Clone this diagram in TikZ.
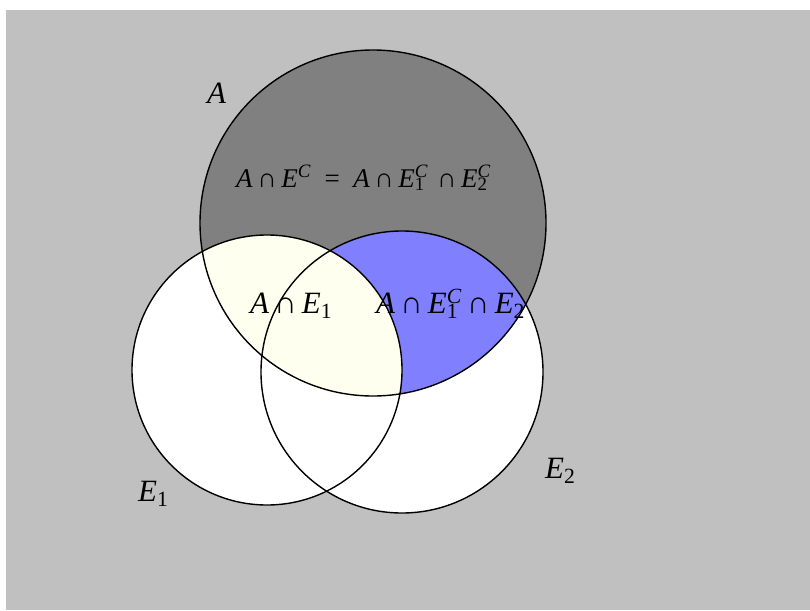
\documentclass[tikz,border=0pt]{standalone}
\usepackage{fontspec}
\setmainfont{Liberation Serif}
\definecolor{bgGray}{RGB}{192,192,192}
\definecolor{setGray}{RGB}{128,128,128}
\definecolor{setBlue}{RGB}{128,128,255}
\definecolor{setCream}{RGB}{255,255,240}
\newcommand{\icap}{\,∩\,}
% E with a subscript and a superscript stacked
\newcommand{\Eset}[2]{\textit{E}\setbox0\hbox{\textsuperscript{\textit{#2}}}%
  \setbox2\hbox{\textsubscript{#1}}%
  \ifdim\wd0>\wd2 \rlap{\box2}\box0\else\rlap{\box0}\box2\fi}

\begin{document}
\begin{tikzpicture}[x=1pt,y=-1pt,
    setlabel/.style={inner sep=0pt, anchor=base west, font=\fontsize{31}{36}\selectfont},
    toplabel/.style={inner sep=0pt, anchor=base west, font=\fontsize{27}{32}\selectfont}]
  \useasboundingbox (0,0) rectangle (810,610);
  \fill[bgGray] (6,10) rectangle (810,610);
  % the three sets
  \fill[setGray] (373,223) circle (173pt);
  \fill[white] (267,370) circle (135pt);
  \fill[white] (402,372) circle (141pt);
  \begin{scope}
    \clip (373,223) circle (173pt);
    \fill[setBlue] (402,372) circle (141pt);
    \fill[setCream] (267,370) circle (135pt);
  \end{scope}
  \draw[line width=1.4pt] (373,223) circle (173pt);
  \draw[line width=1.4pt] (267,370) circle (135pt);
  \draw[line width=1.4pt] (402,372) circle (141pt);
  % labels
  \node[setlabel] (labA) at (207,103) {\textit{A}};
  \node[setlabel] (labE1) at (138,501) {\Eset{1}{}};
  \node[setlabel] (labE2) at (545,478) {\Eset{2}{}};
  \node[toplabel] (notE) at (236,187)
    {\textit{A}\icap\textit{E}\textsuperscript{\textit{C}}\enspace=\enspace\textit{A}\icap\Eset{1}{C}\,\icap\Eset{2}{C}};
  \node[setlabel] (inE1) at (250,313) {\textit{A}\icap\Eset{1}{}};
  \node[setlabel] (inE2) at (376,313) {\textit{A}\icap\Eset{1}{C}\icap\Eset{2}{}};
\end{tikzpicture}
\end{document}
